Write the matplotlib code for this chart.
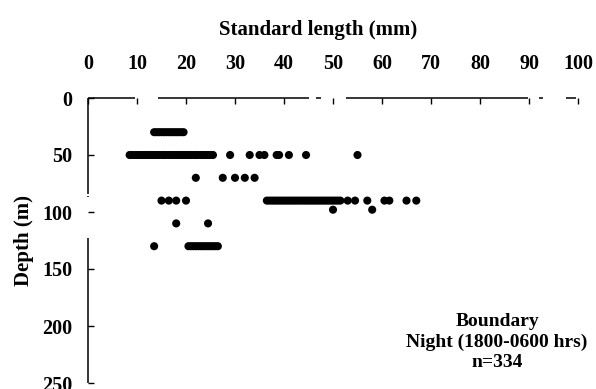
import matplotlib
matplotlib.use("Agg")
import matplotlib.pyplot as plt
import numpy as np

# Standard length (mm) of fish caught at each sampling depth (m)
sl_30m = [13.5, 14, 14.5, 15, 15.5, 16, 16.5, 17, 17.5, 18, 18.5, 19, 19.5]
sl_50m = [8.5, 9, 9.5, 10, 10.5, 11, 11.5, 12, 12.5, 13, 13.5, 14, 14.5, 15,
          15.5, 16, 16.5, 17, 17.5, 18, 18.5, 19, 19.5, 20, 20.5, 21, 21.5,
          22, 22.5, 23, 23.5, 24, 24.5, 25, 25.5,
          29, 33, 35, 36, 38.5, 39, 41, 44.5, 55]
sl_70m = [22, 27.5, 30, 32, 34]
sl_90m = [15, 16.5, 18, 20,
          36.5, 37, 37.5, 38, 38.5, 39, 39.5, 40, 40.5, 41, 41.5, 42, 42.5,
          43, 43.5, 44, 44.5, 45, 45.5, 46, 46.5, 47, 47.5, 48, 48.5, 49,
          49.5, 50, 50.5, 51, 51.5, 53, 54.5, 57, 60.5, 61.5, 65, 67]
sl_98m = [50, 58]
sl_110m = [18, 24.5]
sl_130m = [13.5, 20.5, 21, 21.5, 22, 22.5, 23, 23.5, 24, 24.5, 25, 25.5,
           26, 26.5]

depths = [30, 50, 70, 90, 98, 110, 130]
lengths_by_depth = [sl_30m, sl_50m, sl_70m, sl_90m, sl_98m, sl_110m, sl_130m]

x_ticks = [0, 10, 20, 30, 40, 50, 60, 70, 80, 90, 100]
y_ticks = [0, 50, 100, 150, 200, 250]

serif = ["Liberation Serif", "DejaVu Serif"]
plt.rcParams["font.family"] = serif
plt.rcParams["font.weight"] = "bold"

fig = plt.figure(figsize=(5.96, 3.89), dpi=100)
W, H = 596, 389
ax = fig.add_axes([88 / W, 1 - 383 / H, 490 / W, (383 - 98) / H])

sl_all = np.concatenate([np.asarray(v, float) for v in lengths_by_depth])
depth_all = np.concatenate([np.full(len(v), d, float)
                            for v, d in zip(lengths_by_depth, depths)])
ax.scatter(sl_all, depth_all, s=34, color="black", edgecolors="none",
           zorder=3)

ax.set_xlim(0, 100)
ax.set_ylim(250, 0)
ax.xaxis.tick_top()
ax.set_xticks(x_ticks)
ax.set_yticks(y_ticks)
ax.tick_params(axis="both", direction="in", length=4, width=1,
               labelsize=14.5, colors="black")
ax.tick_params(axis="x", pad=17, top=True, bottom=False)
ax.tick_params(axis="y", pad=11)
for lab in ax.get_xticklabels() + ax.get_yticklabels():
    lab.set_fontweight("bold")

# axis rules drawn as broken strokes, as on the printed figure
for s in ax.spines.values():
    s.set_visible(False)
top_rule = [(0, 9.6), (14.2, 45), (46.5, 47.5), (52.7, 89.8), (92, 92.8),
            (97.5, 99.5)]
left_rule = [(0, 84), (86, 87), (123, 250)]
for a, b in top_rule:
    ax.plot([a, b], [0, 0], color="black", lw=1.1, clip_on=False,
            solid_capstyle="butt")
for a, b in left_rule:
    ax.plot([0, 0], [a, b], color="black", lw=1.1, clip_on=False,
            solid_capstyle="butt")

fig.text(318 / W, 1 - 30 / H, "Standard length (mm)", ha="center",
         va="center", fontsize=15, fontweight="bold")
ax.set_ylabel("Depth (m)", fontsize=15, fontweight="bold", labelpad=6)

ax.text(83.5, 214, "Boundary\nNight (1800-0600 hrs)\nn=334", ha="center",
        va="center", fontsize=14, fontweight="bold", linespacing=1.25)

fig.savefig("out.png", dpi=100)
